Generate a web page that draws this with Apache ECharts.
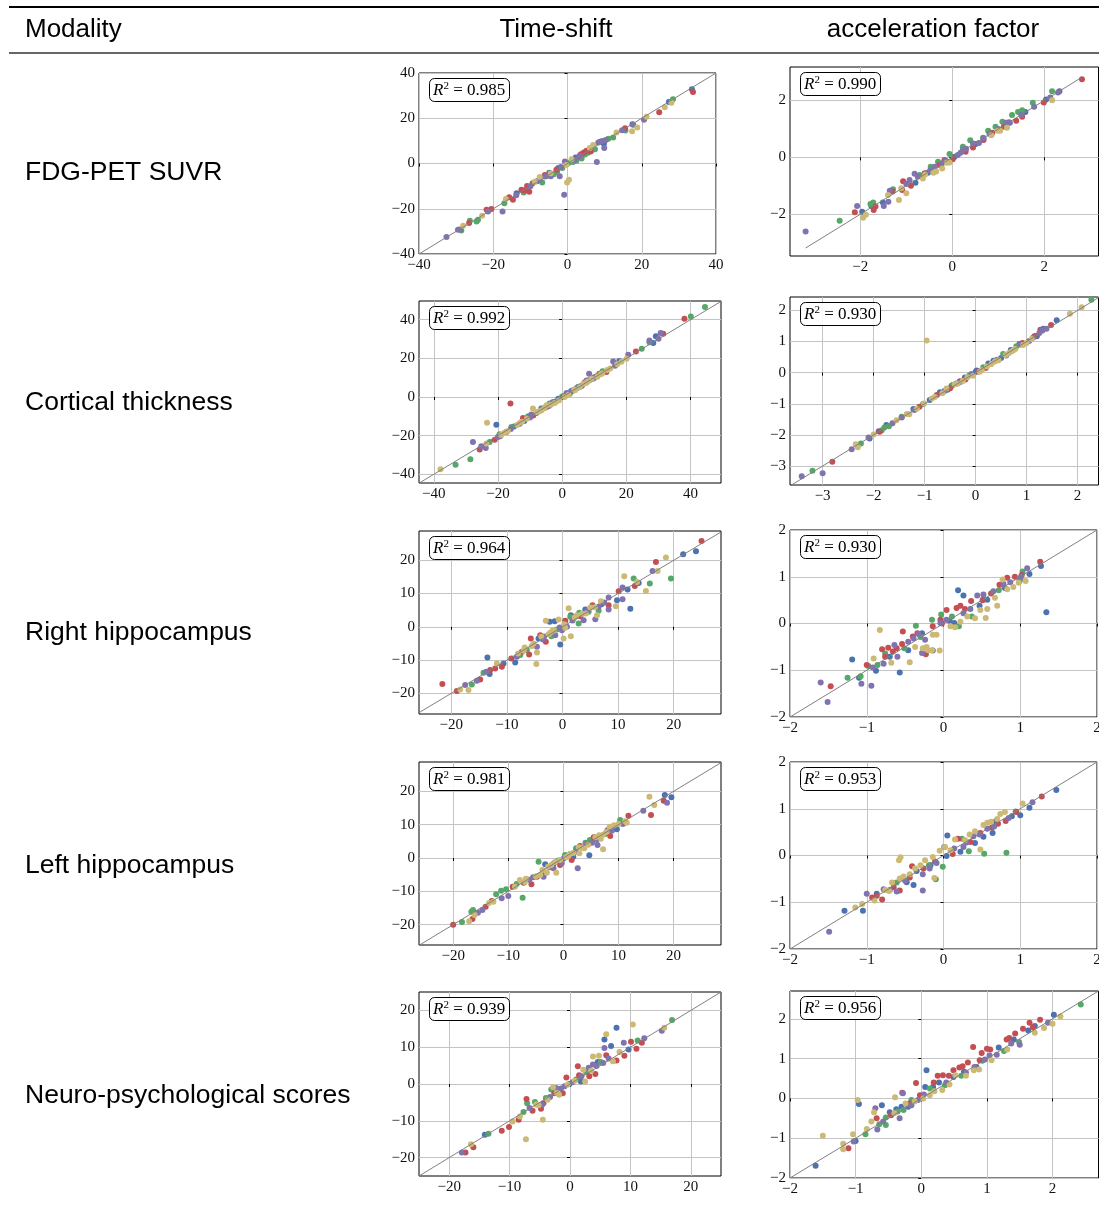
<!DOCTYPE html>
<html>
<head>
<meta charset="utf-8">
<script src="https://cdn.jsdelivr.net/npm/echarts@6/dist/echarts.min.js"></script>
<style>
  html, body { margin: 0; padding: 0; background: #fff; }
  #chart { width: 1099px; height: 1215px; }
</style>
</head>
<body>
<div id="chart"></div>
<script>
// table text
const colHeaders = ['Modality', 'Time-shift', 'acceleration factor']
const rowLabels = ['FDG-PET SUVR', 'Cortical thickness', 'Right hippocampus', 'Left hippocampus', 'Neuro-psychological scores']

// R^2 per panel (row by row: time-shift, acceleration)
const r2Values = ['0.985', '0.990', '0.992', '0.930', '0.964', '0.930', '0.981', '0.953', '0.939', '0.956']

// axis limits and ticks per panel
const xRanges = [[-40, 40], [-3.53, 3.18], [-44.6, 49.5], [-3.64, 2.41], [-25.8, 28.5], [-2, 2], [-26.2, 28.6], [-2, 2], [-25, 25], [-2, 2.7]]
const yRanges = [[-40, 40], [-3.47, 3.18], [-44.5, 49.7], [-3.61, 2.43], [-26.2, 28.8], [-2, 2], [-26.1, 28.8], [-2, 2], [-25, 25], [-2, 2.7]]
const xTicks = [[-40, -20, 0, 20, 40], [-2, 0, 2], [-40, -20, 0, 20, 40], [-3, -2, -1, 0, 1, 2], [-20, -10, 0, 10, 20],
  [-2, -1, 0, 1, 2], [-20, -10, 0, 10, 20], [-2, -1, 0, 1, 2], [-20, -10, 0, 10, 20], [-2, -1, 0, 1, 2]]
const yTicks = [[-40, -20, 0, 20, 40], [-2, 0, 2], [-40, -20, 0, 20, 40], [-3, -2, -1, 0, 1, 2], [-20, -10, 0, 10, 20],
  [-2, -1, 0, 1, 2], [-20, -10, 0, 10, 20], [-2, -1, 0, 1, 2], [-20, -10, 0, 10, 20], [-2, -1, 0, 1, 2]]
// identity line extent per panel
const diagExtents = [[-40, 40], [-3.19, 2.8], [-44.6, 49.6], [-3.64, 2.43], [-26.2, 28.8], [-2, 2], [-26.2, 28.8], [-2, 2], [-25, 25], [-2, 2.7]]

// points: [true, estimated, group]  b=blue g=green r=red p=purple y=yellow
const fdgShift = [
  [-32.6, -32.5, 'p'], [-29.5, -29.3, 'p'], [-28.8, -29.1, 'p'], [-28.6, -29.6, 'g'], [-28.1, -27.5, 'y'], [-26.5, -26.3, 'r'],
  [-26.3, -25.3, 'g'], [-24.5, -25.6, 'g'], [-24.1, -24.9, 'g'], [-23, -23.1, 'y'], [-21.8, -20.4, 'r'], [-20.5, -20.1, 'r'],
  [-21.4, -21.2, 'p'], [-17.5, -21.2, 'p'], [-17, -17.6, 'g'], [-16.6, -15.7, 'y'], [-15.7, -14.9, 'r'], [-14.7, -16, 'r'],
  [-13.8, -14, 'p'], [-13.7, -13.1, 'b'], [-12.4, -11.6, 'r'], [-11.5, -11.9, 'r'], [-11.8, -12.8, 'g'], [-10.3, -12.5, 'r'],
  [-10.9, -9.9, 'r'], [-9.4, -8.7, 'r'], [-10, -10.1, 'p'], [-7.5, -6, 'y'], [-6.8, -8.4, 'g'], [-7.5, -7.2, 'p'],
  [-6.1, -5.1, 'r'], [-6, -5.8, 'p'], [-4.9, -4.1, 'b'], [-4.5, -4.3, 'y'], [-4.5, -5.6, 'p'], [-3.7, -4.7, 'g'],
  [-3, -2.8, 'r'], [-2.5, -2, 'b'], [-2.1, -5.6, 'p'], [-1.4, -2, 'g'], [-0.3, -0.7, 'y'], [-0.7, 0.9, 'p'],
  [-0.1, -8.4, 'y'], [0.4, -7.2, 'y'], [-0.9, -13.8, 'p'], [1.1, 1.9, 'y'], [1.5, 0.7, 'g'], [2.4, 1.2, 'g'],
  [2.9, 2.8, 'p'], [3.3, 3.4, 'p'], [3.8, 2.2, 'g'], [4.4, 4.9, 'r'], [5.1, 5.6, 'r'], [4.7, 4, 'g'],
  [6.5, 5.7, 'g'], [6, 6.9, 'y'], [6.2, 5.3, 'r'], [7.4, 6.3, 'g'], [6.9, 8.2, 'y'], [8.3, 9.3, 'p'],
  [9.4, 10, 'p'], [7.9, 0.7, 'p'], [9.9, 6.9, 'p'], [9.8, 8.7, 'b'], [11, 10.9, 'g'], [12.3, 11.5, 'g'],
  [13.2, 13.7, 'y'], [15.5, 15.6, 'r'], [15.6, 14.6, 'g'], [14.7, 14.7, 'p'], [17.4, 14.3, 'y'], [18.8, 15.9, 'y'],
  [17.7, 17.1, 'p'], [17.5, 17.4, 'b'], [20.6, 19.3, 'p'], [21.3, 20.7, 'y'], [24.7, 22.6, 'r'], [26.2, 24.9, 'y'],
  [27.3, 27.2, 'b'], [28.4, 28.4, 'g'], [28, 26.9, 'y'], [33.5, 32.8, 'b'], [33.8, 31.6, 'r'],
  [-8.2, -7.9, 'b'], [-5.3, -5.4, 'g'], [-1.8, -1.5, 'p'], [0.3, 0.2, 'g'], [1.9, 1.6, 'p'], [2.2, 2.6, 'b'],
  [3.6, 4.1, 'r'], [5.5, 4.8, 'g'], [8.8, 9.6, 'b'], [10.3, 10.4, 'p'], [-2.8, -3.6, 'g'], [-8.8, -8.1, 'y']
]
const fdgAccel = [
  [-3.19, -2.61, 'p'], [-2.45, -2.23, 'g'], [-2.12, -1.93, 'r'], [-2.07, -1.71, 'p'], [-1.96, -1.91, 'b'], [-1.94, -2.12, 'y'],
  [-1.88, -2.02, 'y'], [-1.78, -1.64, 'g'], [-1.72, -1.59, 'g'], [-1.71, -1.85, 'r'], [-1.67, -1.73, 'r'], [-1.76, -1.71, 'b'],
  [-1.49, -1.71, 'p'], [-1.51, -1.59, 'b'], [-1.39, -1.56, 'p'], [-1.4, -1.32, 'y'], [-1.29, -1.12, 'g'], [-1.36, -1.17, 'p'],
  [-1.3, -1.2, 'r'], [-1.16, -1.5, 'y'], [-1.11, -1.09, 'y'], [-1.07, -0.84, 'r'], [-1.09, -1.15, 'r'], [-1, -1.26, 'y'],
  [-1, -0.94, 'p'], [-0.93, -0.8, 'p'], [-0.9, -1, 'r'], [-0.82, -0.58, 'p'], [-0.8, -0.89, 'b'], [-0.75, -0.68, 'p'],
  [-0.71, -0.62, 'g'], [-0.64, -0.74, 'y'], [-0.59, -0.6, 'y'], [-0.6, -0.56, 'r'], [-0.53, -0.54, 'b'], [-0.47, -0.33, 'g'],
  [-0.41, -0.54, 'y'], [-0.35, -0.5, 'y'], [-0.38, -0.33, 'p'], [-0.31, -0.15, 'g'], [-0.28, -0.27, 'r'], [-0.22, -0.21, 'p'],
  [-0.22, -0.39, 'y'], [-0.12, -0.19, 'y'], [-0.14, -0.12, 'p'], [-0.17, -0.09, 'r'], [-0.06, 0.12, 'g'], [-0.06, -0.18, 'y'],
  [0.01, -0.07, 'r'], [0.05, 0.02, 'b'], [0.12, 0.08, 'p'], [0.23, 0.26, 'p'], [0.23, 0.37, 'g'], [0.29, 0.2, 'r'],
  [0.39, 0.6, 'g'], [0.45, 0.49, 'p'], [0.45, 0.35, 'r'], [0.51, 0.47, 'b'], [0.58, 0.51, 'p'], [0.67, 0.69, 'g'],
  [0.68, 0.67, 'p'], [0.68, 0.61, 'r'], [0.78, 0.94, 'g'], [0.87, 0.87, 'r'], [0.85, 0.78, 'y'], [0.81, 0.82, 'p'],
  [0.94, 1.08, 'g'], [0.99, 0.94, 'y'], [1.04, 0.94, 'y'], [1.09, 1.25, 'g'], [1.12, 1.08, 'r'], [1.17, 1.22, 'p'],
  [1.19, 1.04, 'y'], [1.23, 1.24, 'p'], [1.3, 1.49, 'g'], [1.25, 1.22, 'b'], [1.39, 1.29, 'r'], [1.43, 1.6, 'g'],
  [1.5, 1.49, 'p'], [1.52, 1.66, 'g'], [1.59, 1.6, 'b'], [1.52, 1.43, 'r'], [1.75, 1.92, 'g'], [1.78, 1.78, 'p'],
  [1.99, 1.93, 'r'], [2.04, 2.04, 'b'], [2.17, 2.01, 'y'], [2.13, 2.11, 'p'], [2.17, 2.33, 'g'], [2.33, 2.33, 'b'],
  [2.3, 2.28, 'p'], [2.82, 2.75, 'r'], [0.3, 0.3, 'p'], [0.18, 0.16, 'p'], [-0.48, -0.45, 'p'], [1.0, 1.0, 'p']
]
const ctShift = [
  [-37.9, -37.4, 'y'], [-33.2, -35, 'g'], [-28.6, -32.2, 'g'], [-27.8, -23.3, 'p'], [-25.7, -27.1, 'r'], [-25.2, -25.5, 'p'],
  [-23.8, -26.4, 'p'], [-23.6, -24.1, 'y'], [-23.4, -13.3, 'y'], [-22.6, -23.3, 'g'], [-21, -22.1, 'r'], [-20.5, -14.3, 'b'],
  [-20, -20.7, 'p'], [-19.3, -20.3, 'p'], [-19.5, -19.3, 'g'], [-16.1, -3.4, 'r'], [-17.4, -18.1, 'r'], [-16.9, -17.6, 'y'],
  [-15.8, -15.5, 'g'], [-13.2, -13.8, 'p'], [-12.2, -10.9, 'r'], [-10.6, -10, 'g'], [-9.1, -6, 'y'], [-9.6, -9, 'p'],
  [-8, -7.8, 'y'], [-6.5, -6, 'b'], [-4.9, -4.3, 'y'], [-3.9, -3.4, 'g'], [-2.8, -2.6, 'p'], [-2.3, -3.1, 'y'],
  [-1.2, -0.9, 'b'], [1.4, 2.1, 'p'], [0.8, 0, 'y'], [2.4, 1.7, 'g'], [3.4, 3.4, 'r'], [5.3, 5.2, 'p'],
  [6.6, 6.9, 'y'], [6, 5.7, 'b'], [8.4, 12.1, 'p'], [7.6, 8.6, 'p'], [9.2, 9.5, 'y'], [10.7, 10.7, 'g'],
  [11.6, 12.1, 'r'], [12.6, 13.3, 'g'], [13.8, 12.9, 'r'], [15.9, 18.4, 'p'], [17.2, 16.9, 'y'], [17.8, 18.6, 'b'],
  [20.6, 21.9, 'p'], [20.1, 19.8, 'y'], [23, 23.6, 'r'], [24.8, 25, 'g'], [27.2, 28.4, 'g'], [27.2, 29.3, 'p'],
  [28.4, 27.9, 'b'], [29.2, 31.4, 'b'], [30, 30.2, 'p'], [30.7, 33.1, 'p'], [31.5, 32.8, 'r'], [38.1, 40.5, 'r'],
  [40.1, 41.7, 'g'], [44.5, 46.6, 'g'],
  [-18, -18.5, 'y'], [-14, -14.5, 'y'], [-11, -11.2, 'y'], [-6.5, -7, 'y'], [-1, -1.8, 'y'], [2, 1.2, 'y'],
  [4, 3.5, 'y'], [8, 8, 'y'], [11, 10.5, 'y'], [14, 14, 'y'], [-8, -8.3, 'p'], [-4, -4.5, 'p'],
  [3, 3.2, 'p'], [10, 10.2, 'p'], [-9, -9.5, 'r'], [-4.5, -4.8, 'r'], [0.5, 0.3, 'r'], [7, 7.5, 'r'],
  [-6, -6, 'g'], [0, 0.3, 'g'], [5, 5.3, 'g'], [-15, -15.2, 'b'], [-3, -3, 'b'], [2.8, 3, 'b'], [9, 9.2, 'b'],
  [-12.5, -12.8, 'y'], [-5.5, -5.8, 'y'], [5.5, 5, 'y'], [12.5, 12.2, 'y'], [18.5, 18.3, 'y'],
  [-19, -19.6, 'y'], [-16, -16.5, 'p'], [-13, -13.2, 'y'], [-10, -10.6, 'p'], [-7.2, -7.5, 'y'], [-3.5, -4, 'y'],
  [-2, -2.3, 'p'], [1, 0.8, 'p'], [3.8, 3.9, 'y'], [6.2, 6, 'p'], [7.5, 7.2, 'y'], [9.8, 9.6, 'p'],
  [12, 11.8, 'y'], [15, 14.8, 'y'], [16.5, 16.2, 'p'], [-11.8, -12.4, 'b'], [-5, -5.3, 'r'], [4.5, 4.5, 'b'], [8.5, 8.8, 'g']
]
const ctAccel = [
  [-3.41, -3.33, 'p'], [-3.2, -3.15, 'g'], [-3, -3.23, 'p'], [-2.81, -2.86, 'r'], [-2.43, -2.46, 'p'], [-2.35, -2.3, 'y'],
  [-2.31, -2.4, 'y'], [-2.25, -2.28, 'g'], [-2.08, -2.12, 'b'], [-2.1, -2.08, 'p'], [-2, -1.99, 'y'], [-1.84, -1.85, 'g'],
  [-1.79, -1.76, 'g'], [-1.88, -1.9, 'r'], [-1.75, -1.68, 'b'], [-1.63, -1.63, 'p'], [-1.55, -1.53, 'y'], [-1.45, -1.44, 'p'],
  [-1.3, -1.34, 'y'], [-1.22, -1.17, 'b'], [-1.1, -1.1, 'r'], [-1.01, -0.99, 'y'], [-1.03, -1.01, 'g'], [-0.96, 1.03, 'y'],
  [-0.86, -0.83, 'y'], [-0.76, -0.72, 'r'], [-0.7, -0.63, 'b'], [-0.61, -0.59, 'p'], [-0.57, -0.51, 'y'], [-0.47, -0.42, 'b'],
  [-0.41, -0.37, 'y'], [-0.31, -0.28, 'r'], [-0.21, -0.16, 'b'], [-0.16, -0.15, 'y'], [-0.08, -0.04, 'p'], [0.02, 0.07, 'b'],
  [0.08, 0.03, 'y'], [0.15, 0.17, 'g'], [0.25, 0.29, 'b'], [0.31, 0.28, 'y'], [0.42, 0.41, 'p'], [0.54, 0.6, 'g'],
  [0.59, 0.57, 'y'], [0.69, 0.73, 'b'], [0.74, 0.72, 'y'], [0.86, 0.92, 'b'], [0.92, 0.95, 'r'], [0.93, 0.89, 'y'],
  [1.13, 1.13, 'p'], [1.16, 1.18, 'r'], [1.31, 1.35, 'p'], [1.27, 1.38, 'r'], [1.33, 1.41, 'b'], [1.39, 1.41, 'p'],
  [1.48, 1.53, 'r'], [1.59, 1.68, 'b'], [1.85, 1.89, 'y'], [2.08, 2.1, 'y'], [2.27, 2.34, 'g'],
  [-0.45, -0.4, 'g'], [-0.5, -0.5, 'r'], [-0.3, -0.3, 'p'], [0.2, 0.15, 'r'], [0.6, 0.55, 'p'], [0.8, 0.85, 'g'],
  [-0.9, -0.88, 'b'], [-1.2, -1.2, 'p'], [-0.05, -0.1, 'y'], [0.45, 0.4, 'y'], [1.0, 0.95, 'y'], [-1.45, -1.42, 'g'],
  [-0.65, -0.66, 'y'], [-0.25, -0.27, 'y'], [0.12, 0.08, 'y'], [0.65, 0.62, 'y'], [1.05, 1.02, 'p'], [-1.15, -1.16, 'y'],
  [0.35, 0.38, 'b'], [-0.12, -0.08, 'g'], [0.05, 0.04, 'r'], [-0.38, -0.35, 'p'], [0.78, 0.76, 'y'], [1.2, 1.17, 'b'],
  [-1.9, -1.88, 'b'], [-1.7, -1.72, 'g'], [-1.35, -1.33, 'y'], [-0.8, -0.78, 'y'], [-0.55, -0.55, 'b'], [-0.35, -0.36, 'y'],
  [0, 0.02, 'b'], [0.22, 0.2, 'y'], [0.5, 0.47, 'b'], [0.7, 0.68, 'y'], [0.88, 0.9, 'p'], [1.1, 1.08, 'y'],
  [1.25, 1.27, 'p'], [0.38, 0.36, 'y'], [-0.2, -0.22, 'r']
]
const rhShift = [
  [-21.6, -17.2, 'r'], [-19, -19.3, 'r'], [-18.4, -18.8, 'y'], [-16.9, -19, 'y'], [-17.5, -17.5, 'p'], [-16.3, -17.3, 'g'],
  [-15.4, -16.2, 'p'], [-14.8, -15.8, 'r'], [-14.2, -13.8, 'g'], [-13.5, -9.2, 'b'], [-13.7, -13.5, 'p'], [-13.1, -14.2, 'b'],
  [-13, -13, 'r'], [-12.1, -12.5, 'r'], [-11.8, -11, 'y'], [-10.6, -11, 'b'], [-10.9, -12, 'r'], [-9.2, -9.5, 'r'],
  [-8.5, -10.7, 'b'], [-8.2, -9, 'p'], [-7.6, -8.5, 'g'], [-7.3, -7.5, 'r'], [-7, -7.2, 'y'], [-6, -8.3, 'r'],
  [-5.7, -3.5, 'r'], [-6.4, -7, 'g'], [-5.2, -5, 'y'], [-4.7, -11.2, 'y'], [-4.6, -7.7, 'y'], [-4.6, -6, 'p'],
  [-4.3, -3.5, 'b'], [-4, -2.5, 'r'], [-3, 1.8, 'y'], [-2.3, 1.5, 'b'], [-3, -4.5, 'r'], [-3.5, -3.8, 'p'],
  [-2.2, -1.8, 'y'], [-1.4, 1.7, 'b'], [-1.3, -2.5, 'p'], [-0.4, -5.3, 'b'], [-0.7, 2.2, 'y'], [0.2, -3.5, 'y'],
  [-1, -0.8, 'g'], [-0.1, -1, 'p'], [1.1, 5.6, 'y'], [1.5, -2.8, 'y'], [1.4, 3, 'g'], [1.5, 3.5, 'b'],
  [0.8, 0, 'p'], [2.3, 3, 'r'], [2.9, 1, 'g'], [2.6, 3.5, 'y'], [3.8, 2, 'p'], [3.2, 3.2, 'r'],
  [4.1, 5.2, 'b'], [4.7, 4.5, 'g'], [5.9, 2.3, 'p'], [6.2, 3.5, 'y'], [5.4, 6.5, 'r'], [6.9, 7.7, 'y'],
  [6.5, 4.8, 'g'], [8.3, 5.2, 'p'], [8.3, 6.5, 'r'], [8.3, 8.8, 'p'], [9.6, 6.2, 'y'], [9.8, 8, 'b'],
  [10.1, 10.7, 'r'], [10.8, 11.8, 'p'], [10.8, 8.3, 'p'], [11.1, 15.2, 'y'], [11.7, 11.2, 'b'], [12.2, 5.4, 'b'],
  [12.8, 14.5, 'g'], [13, 12.3, 'r'], [13.4, 13.5, 'y'], [13.7, 13.2, 'b'], [15, 10.8, 'y'], [15.7, 13, 'g'],
  [16.2, 16.8, 'p'], [16.8, 19.5, 'r'], [17.1, 16.8, 'y'], [19.5, 14.5, 'g'], [18.6, 20.8, 'y'], [21.7, 21.8, 'b'],
  [24, 22.7, 'b'], [25, 25.8, 'r'],
  [-2.5, -2.2, 'y'], [-1.8, -1.2, 'y'], [0.3, 0.8, 'y'], [3.5, 3.9, 'y'], [4.5, 4.8, 'p'], [5.8, 5.9, 'y'],
  [-5.5, -5.8, 'y'], [-3.3, -2.9, 'p'], [-0.5, -0.2, 'p'], [1.8, 1.9, 'p'], [7.5, 7.3, 'p'], [2, 2.5, 'g'],
  [-8, -8, 'y'], [-6.8, -6.2, 'y'], [-3.8, -3, 'y'], [-1.5, -1, 'y'], [0.5, -0.3, 'y'], [2.2, 2.8, 'y'],
  [4.2, 4, 'y'], [5, 5.8, 'y'], [6.5, 6, 'p'], [7, 6.8, 'b'], [-2, -2.8, 'g'], [0.5, 1.8, 'r'], [3, 4.2, 'g']
]
const rhAccel = [
  [-1.6, -1.26, 'p'], [-1.51, -1.68, 'p'], [-1.47, -1.34, 'r'], [-1.25, -1.16, 'g'], [-1.19, -0.77, 'b'], [-1.1, -1.16, 'b'],
  [-1.08, -1.13, 'g'], [-1.07, -1.29, 'p'], [-1, -0.89, 'r'], [-0.98, -0.91, 'g'], [-0.86, -0.89, 'g'], [-0.94, -1.33, 'p'],
  [-0.92, -0.94, 'p'], [-0.88, -1.01, 'b'], [-0.91, -0.75, 'y'], [-0.83, -0.14, 'y'], [-0.8, -0.55, 'r'], [-0.76, -0.64, 'g'],
  [-0.78, -0.86, 'p'], [-0.76, -0.71, 'r'], [-0.72, -0.52, 'r'], [-0.7, -0.71, 'b'], [-0.68, -0.84, 'y'], [-0.66, -0.6, 'r'],
  [-0.64, -0.46, 'p'], [-0.61, -0.53, 'r'], [-0.6, -0.71, 'p'], [-0.57, -1.05, 'b'], [-0.54, -0.44, 'r'], [-0.53, -0.17, 'r'],
  [-0.51, -0.53, 'g'], [-0.44, -0.83, 'y'], [-0.46, -0.57, 'b'], [-0.46, -0.39, 'p'], [-0.4, -0.28, 'r'], [-0.39, -0.32, 'p'],
  [-0.36, -0.05, 'g'], [-0.37, -0.5, 'y'], [-0.34, -0.21, 'r'], [-0.33, -0.22, 'p'], [-0.3, -0.29, 'g'], [-0.28, -0.63, 'p'],
  [-0.27, -0.53, 'y'], [-0.28, -0.21, 'b'], [-0.23, -0.66, 'r'], [-0.22, -0.5, 'y'], [-0.2, -0.57, 'y'], [-0.15, -0.57, 'y'],
  [-0.14, -0.58, 'b'], [-0.24, -0.35, 'p'], [-0.14, -0.06, 'r'], [-0.15, 0.08, 'g'], [-0.14, -0.24, 'y'], [-0.05, -0.58, 'y'],
  [-0.09, -0.24, 'y'], [-0.03, 0.19, 'g'], [-0.04, 0.08, 'r'], [-0.04, 0.01, 'p'], [-0.02, 0, 'r'], [0.04, 0.08, 'p'],
  [0.08, 0.06, 'b'], [0.04, 0.29, 'r'], [0.09, -0.06, 'y'], [0.11, 0.15, 'g'], [0.14, 0.01, 'b'], [0.17, 0.33, 'r'],
  [0.19, 0.71, 'b'], [0.15, -0.08, 'y'], [0.2, -0.06, 'g'], [0.22, 0.04, 'y'], [0.26, 0.6, 'b'], [0.26, 0.22, 'p'],
  [0.22, 0.38, 'r'], [0.28, 0.31, 'r'], [0.31, 0.15, 'y'], [0.35, 0.31, 'p'], [0.36, 0.48, 'r'], [0.37, 0.15, 'g'],
  [0.41, 0.11, 'y'], [0.44, 0.6, 'p'], [0.47, 0.38, 'b'], [0.48, 0.29, 'y'], [0.51, 0.5, 'r'], [0.52, 0.62, 'p'],
  [0.55, 0.12, 'y'], [0.52, 0.53, 'g'], [0.57, 0.51, 'b'], [0.57, 0.31, 'y'], [0.7, 0.38, 'y'], [0.62, 0.64, 'r'],
  [0.65, 0.69, 'p'], [0.67, 0.55, 'y'], [0.73, 0.83, 'r'], [0.77, 0.94, 'y'], [0.72, 0.71, 'g'], [0.78, 0.85, 'p'],
  [0.8, 0.76, 'b'], [0.83, 0.98, 'r'], [0.83, 0.73, 'y'], [0.87, 0.88, 'p'], [0.93, 1, 'r'], [0.91, 0.78, 'y'],
  [0.98, 0.87, 'y'], [1, 0.94, 'g'], [1.01, 1, 'p'], [1.03, 1.11, 'g'], [0.99, 0.91, 'b'], [1.07, 0.91, 'y'],
  [1.02, 1.04, 'r'], [1.09, 1.18, 'p'], [1.12, 1.06, 'b'], [1.26, 1.32, 'r'], [1.27, 1.23, 'b'], [1.34, 0.24, 'b']
]
const lhShift = [
  [-20, -20, 'r'], [-18.4, -19.2, 'g'], [-17.1, -19, 'y'], [-16.5, -18.3, 'r'], [-16.7, -16.1, 'g'], [-16.4, -15.6, 'g'],
  [-16.1, -17.1, 'y'], [-15.5, -16.4, 'p'], [-14.7, -15.6, 'p'], [-14.1, -14.6, 'r'], [-12.2, -10.9, 'g'], [-12.7, -13.1, 'y'],
  [-13, -12.9, 'r'], [-11.2, -12.1, 'p'], [-11.3, -9.8, 'g'], [-10.4, -9.4, 'g'], [-10, -11.4, 'p'], [-8.5, -7.8, 'g'],
  [-7.4, -11.9, 'g'], [-7.9, -6.6, 'y'], [-7.2, -7.4, 'r'], [-6.8, -6.2, 'y'], [-5.8, -7.9, 'r'], [-5.5, -5.8, 'p'],
  [-4.5, -1.1, 'g'], [-4.2, -5.1, 'y'], [-3.6, -4.4, 'b'], [-3.3, -1.9, 'b'], [-3.6, -5.6, 'p'], [-3, -4.4, 'y'],
  [-2.5, -2.8, 'r'], [-1.3, -4.4, 'y'], [-1.8, -3.1, 'p'], [-1.7, -1.6, 'b'], [-0.6, -0.6, 'y'], [-0.6, -2.1, 'r'],
  [-0.3, -1.6, 'p'], [0.3, 0.9, 'g'], [0.9, 0.6, 'y'], [1.5, -0.6, 'r'], [1.8, 0.4, 'b'], [2.6, -3.1, 'p'],
  [2.9, 1.4, 'y'], [2.3, 2.9, 'g'], [3, 3.6, 'r'], [4.7, 0.8, 'b'], [4.2, 4.2, 'p'], [3.8, 2.9, 'y'],
  [4.8, 5.4, 'g'], [5.5, 6.2, 'r'], [6.2, 3.9, 'p'], [7.2, 2.6, 'y'], [6.4, 6.4, 'b'], [6.8, 5.8, 'y'],
  [7.6, 7.2, 'g'], [8.5, 6.6, 'r'], [8.4, 9.4, 'y'], [8.8, 8.2, 'p'], [9.7, 8.6, 'b'], [10.3, 11.4, 'g'],
  [11.5, 10.6, 'y'], [11.8, 12.7, 'r'], [14.5, 14.2, 'p'], [15.6, 18.4, 'y'], [15.9, 12.9, 'r'], [16.5, 15.9, 'y'],
  [18.2, 17.2, 'r'], [18.4, 18.9, 'b'], [18.8, 16.6, 'p'], [19.6, 18.2, 'b'],
  [-8.8, -8.6, 'y'], [-6.2, -6.5, 'p'], [-2.2, -2.1, 'y'], [0, -0.2, 'p'], [1.2, 1.3, 'y'], [2.2, 1.9, 'p'],
  [3.3, 3.1, 'y'], [5.2, 4.6, 'p'], [6, 5.5, 'p'], [9.2, 9.8, 'y'], [10.8, 10.2, 'p'], [11.2, 11, 'y'],
  [-1, -0.8, 'g'], [4, 4.6, 'g'], [-9.2, -8.6, 'r'], [-4.8, -5.6, 'r'], [5.8, 6.2, 'y'], [7.8, 7.8, 'y'],
  [-7, -7.2, 'y'], [-5, -5.5, 'y'], [-3.8, -3.6, 'y'], [-2.8, -2.6, 'y'], [-1.5, -1.2, 'y'], [0.5, 0.2, 'y'],
  [1.8, 1.5, 'y'], [2.8, 3.2, 'y'], [4.5, 4, 'y'], [6.5, 6.8, 'y'], [7.2, 7, 'y'], [8, 8.3, 'p'], [10, 10.2, 'y'], [-13.5, -13.5, 'y']
]
const lhAccel = [
  [-1.49, -1.63, 'p'], [-1.29, -1.18, 'b'], [-1.15, -1.11, 'y'], [-1.05, -1.18, 'b'], [-1.06, -1.04, 'y'], [-1, -0.82, 'p'],
  [-0.93, -0.9, 'r'], [-0.9, -0.96, 'y'], [-0.87, -0.86, 'r'], [-0.87, -0.82, 'b'], [-0.8, -0.94, 'r'], [-0.78, -0.72, 'p'],
  [-0.76, -0.74, 'y'], [-0.71, -0.76, 'y'], [-0.7, -0.74, 'p'], [-0.65, -0.68, 'r'], [-0.67, -0.58, 'y'], [-0.61, -0.58, 'g'],
  [-0.61, -0.77, 'p'], [-0.57, -0.75, 'r'], [-0.58, -0.1, 'y'], [-0.56, -0.04, 'y'], [-0.57, -0.49, 'y'], [-0.52, -0.45, 'y'],
  [-0.5, -0.54, 'p'], [-0.44, -0.4, 'y'], [-0.48, -0.57, 'b'], [-0.44, -0.47, 'r'], [-0.39, -0.63, 'b'], [-0.41, -0.23, 'r'],
  [-0.37, -0.28, 'y'], [-0.35, -0.33, 'b'], [-0.27, -0.4, 'p'], [-0.27, -0.75, 'p'], [-0.3, -0.21, 'y'], [-0.26, -0.28, 'r'],
  [-0.24, -0.1, 'y'], [-0.19, -0.21, 'g'], [-0.18, -0.28, 'p'], [-0.17, -0.21, 'b'], [-0.12, -0.48, 'y'], [-0.1, -0.51, 'g'],
  [-0.14, -0.03, 'y'], [-0.11, -0.13, 'r'], [-0.05, 0.1, 'y'], [-0.09, -0.16, 'p'], [-0.01, -0.24, 'g'], [0.05, 0.43, 'b'],
  [0.02, 0.18, 'y'], [0.01, 0.18, 'p'], [0.04, -0.01, 'b'], [0.09, 0.11, 'y'], [0.12, 0.03, 'r'], [0.14, 0.15, 'p'],
  [0.15, 0.34, 'y'], [0.19, 0.36, 'r'], [0.22, 0.08, 'b'], [0.24, 0.36, 'g'], [0.26, 0.18, 'p'], [0.28, 0.33, 'y'],
  [0.33, 0.09, 'g'], [0.34, 0.45, 'y'], [0.35, 0.29, 'r'], [0.39, 0.41, 'p'], [0.41, 0.27, 'b'], [0.41, 0.52, 'y'],
  [0.48, 0.13, 'y'], [0.53, 0.04, 'g'], [0.47, 0.45, 'p'], [0.48, 0.48, 'r'], [0.52, 0.4, 'b'], [0.52, 0.65, 'y'],
  [0.57, 0.57, 'p'], [0.57, 0.7, 'y'], [0.63, 0.6, 'r'], [0.64, 0.48, 'b'], [0.66, 0.62, 'p'], [0.68, 0.73, 'b'],
  [0.74, 0.89, 'y'], [0.71, 0.68, 'r'], [0.82, 0.06, 'g'], [0.8, 0.93, 'y'], [0.81, 0.74, 'r'], [0.94, 0.94, 'g'],
  [0.89, 0.84, 'b'], [0.95, 0.93, 'r'], [1.03, 1.11, 'y'], [1, 0.86, 'b'], [1.12, 1.02, 'b'], [1.16, 1.14, 'p'],
  [1.28, 1.26, 'r'], [1.47, 1.4, 'b'], [0.62, 0.72, 'y'], [0.7, 0.78, 'y'], [0.3, 0.28, 'p'], [0.85, 0.8, 'p']
]
const npShift = [
  [-17.9, -18.6, 'p'], [-17.3, -18.6, 'r'], [-16, -17.2, 'r'], [-16.4, -16.4, 'y'], [-14.1, -13.8, 'b'], [-13.5, -13.5, 'g'],
  [-11.3, -12.7, 'r'], [-10.1, -11.7, 'r'], [-9.5, -10.2, 'y'], [-8.5, -9.7, 'r'], [-7.7, -7.6, 'g'], [-7.3, -15, 'y'],
  [-8.3, -8.8, 'y'], [-7.2, -4.1, 'r'], [-7.1, -5.2, 'g'], [-6.7, -6.5, 'p'], [-6.2, -7.3, 'r'], [-5.8, -4.9, 'g'],
  [-5.6, -5.6, 'y'], [-4.8, -6.7, 'r'], [-4.5, -9.7, 'y'], [-4.6, -5.6, 'p'], [-4.4, -5.2, 'r'], [-4, -3.8, 'g'],
  [-3.7, -4.3, 'y'], [-3.1, -1.5, 'g'], [-2.8, -0.9, 'y'], [-2.6, -2.5, 'r'], [-2.3, -1.1, 'p'], [-1.8, -2.9, 'y'],
  [-1.2, -2.5, 'r'], [-0.9, -0.6, 'p'], [-0.6, 1.8, 'r'], [-0.4, -0.2, 'y'], [-0.1, 0, 'b'], [0.4, 0.5, 'p'],
  [1, 1.2, 'g'], [1.3, 4.8, 'r'], [1.5, 2.4, 'r'], [1.8, 0.7, 'b'], [2.2, 3.9, 'y'], [2.5, 0.7, 'y'],
  [3.1, 4.4, 'p'], [2.9, 3.3, 'g'], [3.2, 2.1, 'r'], [4.2, 2.7, 'r'], [3.8, 5.3, 'p'], [3.8, 7.5, 'y'],
  [4.6, 6, 'b'], [5.1, 6, 'g'], [4.8, 7.7, 'y'], [5.7, 12.1, 'b'], [5.7, 9.8, 'p'], [6, 13.5, 'y'],
  [6, 7.8, 'r'], [6.8, 10.3, 'b'], [7.1, 6.2, 'y'], [7.7, 15.3, 'b'], [7.7, 6.4, 'r'], [9, 7.7, 'r'],
  [8.9, 11.2, 'p'], [10.4, 16.2, 'y'], [10.1, 11.5, 'r'], [9.7, 9.4, 'b'], [11, 9.6, 'r'], [11.2, 11.8, 'g'],
  [11.9, 11.2, 'r'], [12.3, 12.4, 'p'], [15.2, 14.5, 'p'], [15.6, 15.3, 'y'], [16.9, 17.4, 'g'],
  [-3.3, -3.5, 'p'], [-1.5, -1.2, 'p'], [0.8, 0.9, 'y'], [1.9, 2.1, 'p'], [4.4, 4.9, 'p'], [6.4, 6.9, 'p'],
  [-5.2, -5.8, 'y'], [-2.2, -2.4, 'y'], [3.5, 3.6, 'y'], [8.2, 8.7, 'y'], [5.5, 5.7, 'p'], [2.7, 3.2, 'g']
]
const npAccel = [
  [-1.61, -1.69, 'b'], [-1.5, -0.94, 'y'], [-1.11, -1.25, 'r'], [-1.19, -1.14, 'y'], [-1.19, -1.28, 'y'], [-1.03, -1.08, 'p'],
  [-1, -1.07, 'b'], [-1.04, -0.9, 'y'], [-0.95, -0.14, 'b'], [-0.97, -0.04, 'y'], [-0.85, -0.9, 'g'], [-0.83, -0.77, 'y'],
  [-0.76, -0.58, 'y'], [-0.7, -0.25, 'p'], [-0.72, -0.35, 'y'], [-0.68, -0.5, 'r'], [-0.67, -0.78, 'p'], [-0.64, -0.65, 'g'],
  [-0.6, -0.17, 'b'], [-0.58, -0.58, 'p'], [-0.54, -0.67, 'g'], [-0.54, -0.48, 'g'], [-0.48, -0.35, 'b'], [-0.46, -0.42, 'r'],
  [-0.38, -0.27, 'b'], [-0.41, -0.37, 'y'], [-0.33, -0.5, 'p'], [-0.36, -0.33, 'g'], [-0.4, 0.03, 'y'], [-0.28, 0.13, 'p'],
  [-0.29, 0.14, 'r'], [-0.3, -0.21, 'b'], [-0.27, -0.29, 'g'], [-0.24, -0.13, 'y'], [-0.2, -0.21, 'b'], [-0.18, -0.13, 'r'],
  [-0.15, -0.17, 'p'], [-0.15, -0.04, 'g'], [-0.1, -0.08, 'y'], [-0.08, 0.39, 'r'], [-0.05, -0.04, 'p'], [-0.02, 0.08, 'r'],
  [0.03, 0, 'y'], [0.04, 0.1, 'p'], [0.08, 0.71, 'b'], [0.06, 0.29, 'b'], [0.13, 0.08, 'y'], [0.13, 0.25, 'g'],
  [0.19, 0.4, 'r'], [0.18, 0.29, 'b'], [0.2, 0.18, 'y'], [0.25, 0.57, 'r'], [0.27, 0.4, 'b'], [0.33, 0.58, 'r'],
  [0.32, 0.21, 'y'], [0.36, 0.33, 'g'], [0.38, 0.4, 'p'], [0.43, 0.35, 'y'], [0.42, 0.57, 'r'], [0.49, 0.71, 'r'],
  [0.49, 0.54, 'b'], [0.52, 0.58, 'y'], [0.58, 0.78, 'r'], [0.61, 0.57, 'g'], [0.63, 0.81, 'r'], [0.65, 0.67, 'b'],
  [0.68, 0.65, 'p'], [0.68, 0.57, 'y'], [0.71, 0.9, 'r'], [0.79, 1.29, 'r'], [0.8, 0.71, 'y'], [0.81, 0.79, 'p'],
  [0.84, 0.79, 'b'], [0.88, 0.73, 'y'], [0.89, 0.96, 'r'], [0.92, 1.14, 'r'], [0.93, 0.95, 'g'], [0.97, 0.98, 'p'],
  [1, 1.25, 'r'], [1.05, 1.23, 'r'], [1.04, 1.08, 'p'], [1.07, 0.96, 'y'], [1.15, 1.1, 'p'], [1.26, 1.19, 'g'],
  [1.18, 1.28, 'b'], [1.31, 1.23, 'y'], [1.3, 1.48, 'r'], [1.34, 1.52, 'r'], [1.37, 1.38, 'p'], [1.41, 1.48, 'b'],
  [1.43, 1.63, 'r'], [1.49, 1.42, 'g'], [1.5, 1.35, 'p'], [1.55, 1.75, 'r'], [1.63, 1.71, 'b'], [1.65, 1.9, 'r'],
  [1.7, 1.79, 'r'], [1.73, 1.82, 'b'], [1.73, 1.65, 'y'], [1.81, 1.98, 'r'], [1.87, 1.77, 'y'], [1.93, 1.9, 'p'],
  [2.02, 2.1, 'b'], [2, 1.88, 'y'], [2.12, 2.06, 'y'], [2.43, 2.36, 'g']
]

const panels = [fdgShift, fdgAccel, ctShift, ctAccel, rhShift, rhAccel, lhShift, lhAccel, npShift, npAccel]

const groupColors = { b: '#4C72B0', g: '#55A868', r: '#C44E52', p: '#8172B2', y: '#CCB974' }
const groupOrder = ['b', 'g', 'r', 'p', 'y']

// panel frames in page pixels: [left, top, width, height]
const frames = [
  [419, 73, 297, 181], [790, 67, 308.5, 189],
  [419, 301, 302, 182], [790, 297, 308.5, 188],
  [419, 531, 302, 183], [790, 530, 307, 187],
  [419, 762, 302, 183], [790, 762, 307, 187],
  [419, 992, 302, 184], [790, 991, 308.5, 187],
]
const rowCenters = [173, 403, 633, 866, 1096]

const serif = '"Liberation Serif", "DejaVu Serif", serif'
const sans = '"Liberation Sans", Arial, sans-serif'
const minus = v => String(v).replace('-', '\u2212')

const grids = [], xAxes = [], yAxes = [], series = [], titles = []

frames.forEach(([left, top, width, height], i) => {
  grids.push({
    left, top, width, height,
    show: true, borderColor: '#000', borderWidth: 1,
    containLabel: false, outerBoundsMode: 'none',
  })
  const axisBase = (ticks) => ({
    type: 'value',
    gridIndex: i,
    axisLine: { show: false },
    axisTick: { show: true, inside: false, length: 3, lineStyle: { color: '#000', width: 1 }, customValues: ticks },
    axisLabel: { customValues: ticks, formatter: minus, fontFamily: serif, fontSize: 15, color: '#111', margin: 4 },
    splitLine: { show: true, lineStyle: { color: '#c4c4c4', width: 1 } },
  })
  xAxes.push({ ...axisBase(xTicks[i]), min: xRanges[i][0], max: xRanges[i][1] })
  yAxes.push({ ...axisBase(yTicks[i]), min: yRanges[i][0], max: yRanges[i][1] })

  groupOrder.forEach(g => {
    series.push({
      type: 'scatter',
      xAxisIndex: i, yAxisIndex: i,
      symbolSize: 6,
      itemStyle: { color: groupColors[g], opacity: 1 },
      data: panels[i].filter(d => d[2] === g).map(d => [d[0], d[1]]),
      silent: true,
      z: 2,
    })
  })
  const [a, b] = diagExtents[i]
  series.push({
    type: 'line',
    xAxisIndex: i, yAxisIndex: i,
    data: [[a, a], [b, b]],
    symbol: 'none',
    lineStyle: { color: '#808080', width: 1 },
    silent: true,
    z: 3,
  })

  titles.push({
    text: `{r|R}{s|2}{t| = ${r2Values[i]}}`,
    left: left + 10,
    top: top + 5,
    padding: [3, 5, 2, 4],
    borderColor: '#000',
    borderWidth: 1,
    borderRadius: 5,
    backgroundColor: 'rgba(255,255,255,0.85)',
    z: 10,
    textStyle: {
      fontWeight: 'normal',
      rich: {
        r: { fontFamily: serif, fontSize: 17, fontStyle: 'italic', fontWeight: 'normal', color: '#000', lineHeight: 20 },
        s: { fontFamily: serif, fontSize: 11, fontWeight: 'normal', color: '#000', lineHeight: 12, verticalAlign: 'top' },
        t: { fontFamily: serif, fontSize: 17, fontWeight: 'normal', color: '#000', lineHeight: 20 },
      },
    },
  })
})

const graphics = [
  { type: 'line', shape: { x1: 9, y1: 7, x2: 1099, y2: 7 }, style: { stroke: '#000', lineWidth: 2 } },
  { type: 'line', shape: { x1: 9, y1: 53, x2: 1099, y2: 53 }, style: { stroke: '#333', lineWidth: 1.5 } },
  { type: 'text', x: 25, y: 30, style: { text: colHeaders[0], fontFamily: sans, fontSize: 26, fill: '#000', align: 'left', verticalAlign: 'middle' } },
  { type: 'text', x: 556, y: 30, style: { text: colHeaders[1], fontFamily: sans, fontSize: 26, fill: '#000', align: 'center', verticalAlign: 'middle' } },
  { type: 'text', x: 933, y: 30, style: { text: colHeaders[2], fontFamily: sans, fontSize: 26, fill: '#000', align: 'center', verticalAlign: 'middle' } },
]
rowLabels.forEach((label, r) => {
  graphics.push({
    type: 'text', x: 25, y: rowCenters[r],
    style: { text: label, fontFamily: sans, fontSize: 26.5, fill: '#000', align: 'left', verticalAlign: 'middle' },
  })
})

const chart = echarts.init(document.getElementById('chart'), null, { renderer: 'canvas' })
chart.setOption({
  animation: false,
  backgroundColor: '#fff',
  title: titles,
  grid: grids,
  xAxis: xAxes,
  yAxis: yAxes,
  series,
  graphic: graphics,
})
</script>
</body>
</html>
